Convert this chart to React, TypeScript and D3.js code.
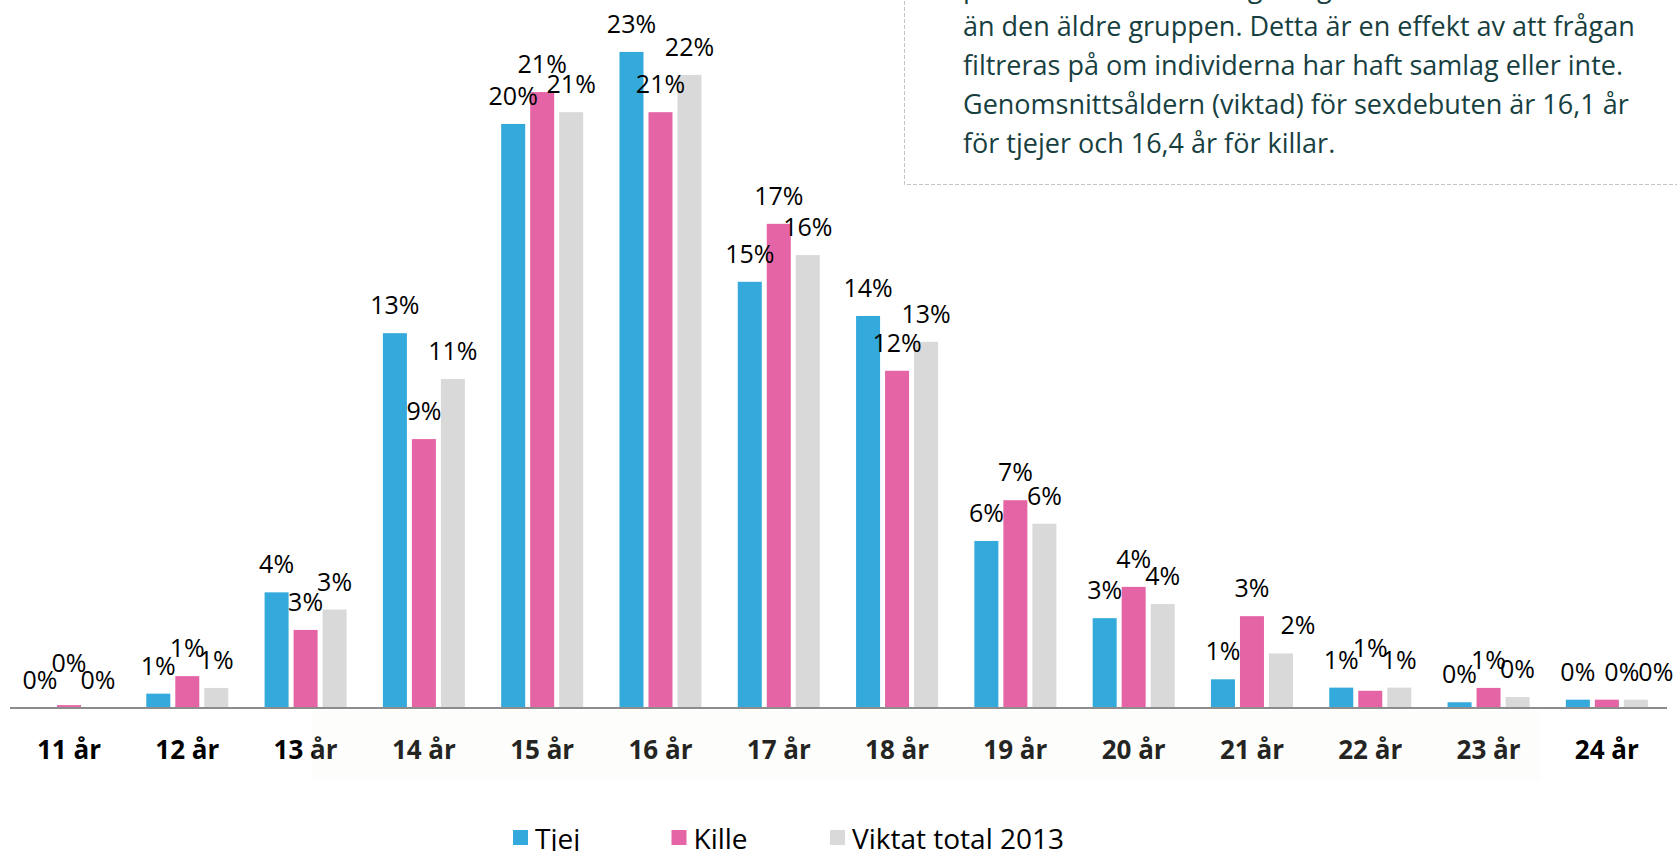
import React from 'react';
import * as d3 from 'd3';

const categories = ['11 år', '12 år', '13 år', '14 år', '15 år', '16 år', '17 år', '18 år', '19 år', '20 år', '21 år', '22 år', '23 år', '24 år'];
const seriesNames = ['Tjej', 'Kille', 'Viktat total 2013'];
const tjej = [0, 0.5, 4.03, 13.06, 20.35, 22.86, 14.85, 13.66, 5.82, 3.13, 1.0, 0.71, 0.2, 0.29];
const kille = [0.1, 1.11, 2.72, 9.37, 21.46, 20.76, 16.87, 11.75, 7.24, 4.22, 3.2, 0.6, 0.7, 0.29];
const viktat = [0, 0.7, 3.43, 11.46, 20.76, 22.06, 15.78, 12.76, 6.42, 3.62, 1.9, 0.71, 0.38, 0.29];
const colors = ['#33aadb', '#e564a6', '#d9d9d9'];

const noteLines = [
  'procentuellt sett en något lägre debutålder och är därmed något yngre',
  'än den äldre gruppen. Detta är en effekt av att frågan',
  'filtreras på om individerna har haft samlag eller inte.',
  'Genomsnittsåldern (viktad) för sexdebuten är 16,1 år',
  'för tjejer och 16,4 år för killar.',
];

// label nudges (relative offsets) for overlapping labels: [categoryIndex, seriesIndex, dx, dy]
const labelNudges: [number, number, number, number][] = [
  [0, 1, 0, -14],
  [10, 2, 17, 0],
  [11, 1, 0, -15],
  [13, 1, 15, 0],
  [13, 2, 20, 0],
];

const W = 1677;
const H = 851;
const baseY = 708;
const pxPerPct = 28.7;

export default function App() {
  const values = [tjej, kille, viktat];
  const x0 = d3.scaleBand<string>().domain(categories).range([9.85, 1666]).paddingInner(0.2646).paddingOuter(0.1323);
  const x1 = d3.scaleBand<string>().domain(seriesNames).range([0, x0.bandwidth()]).paddingInner(0.172).paddingOuter(0.086);
  const y = d3.scaleLinear().domain([0, 25]).range([baseY, baseY - 25 * pxPerPct]);

  const nudge = (ci: number, si: number) => {
    const n = labelNudges.find((d) => d[0] === ci && d[1] === si);
    return n ? [n[2], n[3]] : [0, 0];
  };

  const font = "'Open Sans', sans-serif";

  return (
    <svg width={W} height={H} style={{ position: 'absolute', left: 0, top: 0, background: '#fff' }}>
      <rect x={0} y={0} width={W} height={H} fill="#fff" />
      {/* note box */}
      <rect x={904.5} y={-10} width={800} height={194.5} fill="none" stroke="#c4c4c4" strokeWidth={1} strokeDasharray="4 2" />
      {noteLines.map((t, i) => (
        <text key={i} x={963} y={-3 + i * 39} fontFamily={font} fontSize={27} fill="#173f3f">{t}</text>
      ))}
      {/* bars */}
      {categories.map((c, ci) => (
        <g key={c} transform={`translate(${x0(c)},0)`}>
          {seriesNames.map((s, si) => {
            const v = values[si][ci];
            const bx = x1(s)!;
            return (
              <rect key={s} x={bx} y={y(v)} width={x1.bandwidth()} height={baseY - y(v)} fill={colors[si]} />
            );
          })}
        </g>
      ))}
      {/* axis line */}
      <line x1={10} x2={1667} y1={baseY} y2={baseY} stroke="#8c8c8c" strokeWidth={2} />
      {/* value labels */}
      {categories.map((c, ci) =>
        seriesNames.map((s, si) => {
          const v = values[si][ci];
          const [dx, dy] = nudge(ci, si);
          const cx = x0(c)! + x1(s)! + x1.bandwidth() / 2 + dx;
          return (
            <text key={c + s} x={cx} y={y(v) - 19 + dy} textAnchor="middle" fontFamily={font} fontSize={25} fill="#000">
              {`${Math.round(v)}%`}
            </text>
          );
        })
      )}
      {/* category labels */}
      {categories.map((c) => (
        <text key={c} x={x0(c)! + x0.bandwidth() / 2} y={759} textAnchor="middle" fontFamily={font} fontWeight="bold" fontSize={26} fill="#000">
          {c}
        </text>
      ))}
      <rect x={313} y={710} width={1227} height={70} fill="#f0f0e4" opacity={0.15} />
      {/* legend */}
      {seriesNames.map((s, i) => (
        <g key={s} transform={`translate(${513 + i * 158.5},0)`}>
          <rect x={0} y={830} width={15} height={15} fill={colors[i]} />
          <text x={22} y={849} fontFamily={font} fontSize={28} fill="#000">{s}</text>
        </g>
      ))}
    </svg>
  );
}
